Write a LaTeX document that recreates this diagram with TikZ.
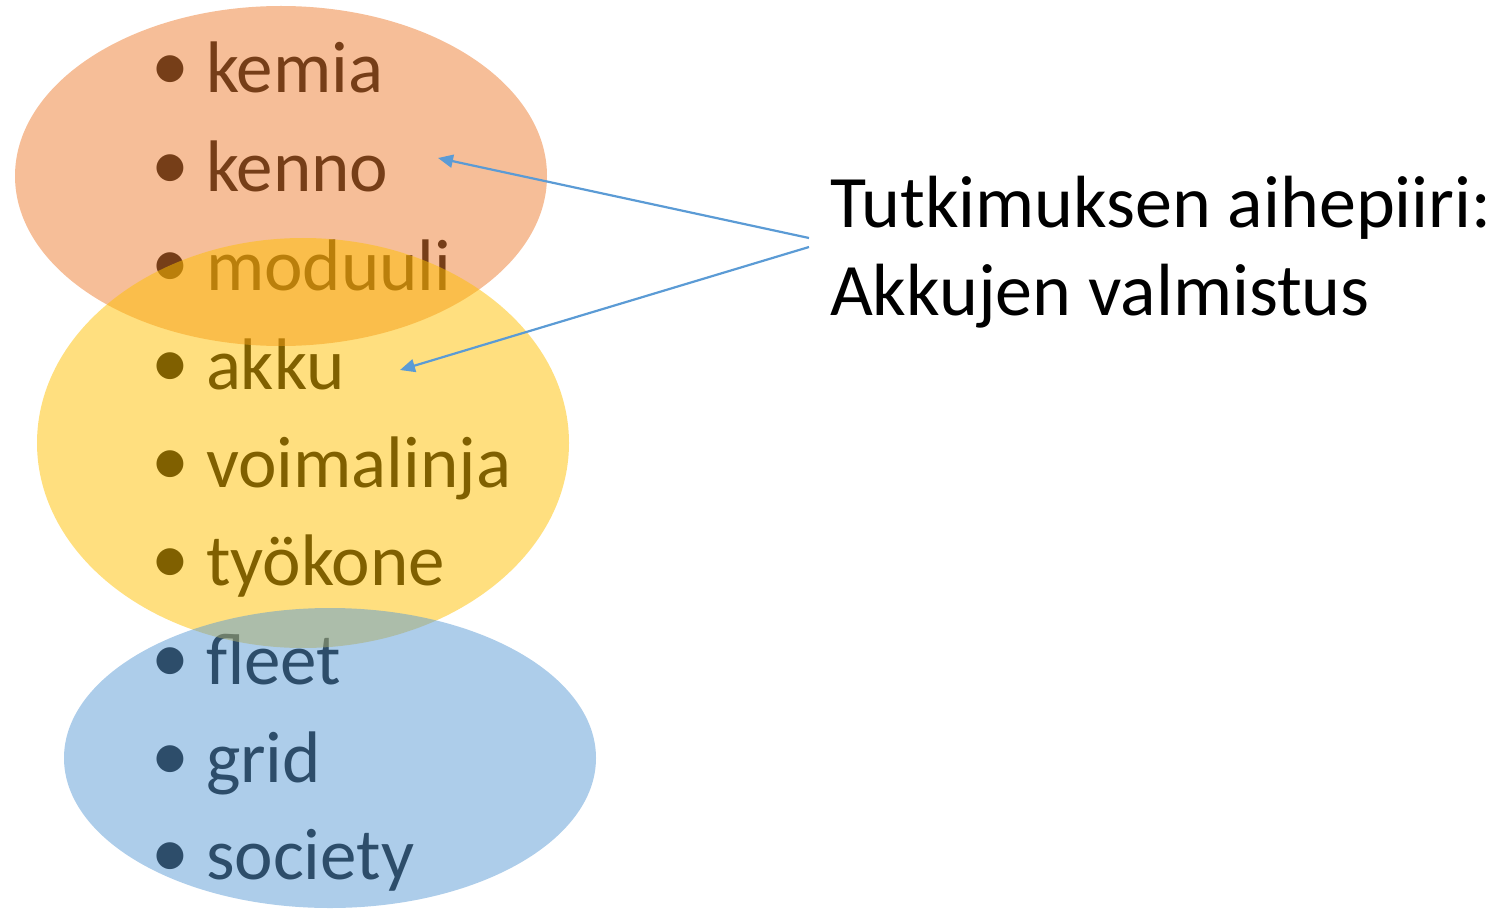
\documentclass[tikz,border=0pt]{standalone}
\usepackage{fontspec}
\setmainfont{Carlito}
\usetikzlibrary{arrows.meta}
\definecolor{cOrange}{HTML}{ED7D31}
\definecolor{cYellow}{HTML}{FFC000}
\definecolor{cBlue}{HTML}{5B9BD5}
\tikzset{
  item/.style={anchor=base west, inner sep=0pt, outer sep=0pt, text=black,
    font=\fontsize{73}{88}\selectfont},
  blob/.style={fill opacity=0.5},
  pointer/.style={draw=cBlue, line width=2.2pt, -{Triangle[length=15pt,width=13pt]}},
  title/.style={anchor=base west, inner sep=0pt, outer sep=0pt, align=left,
    font=\fontsize{74}{88}\selectfont}
}
\newcommand{\bul}[1]{\makebox[50pt][l]{\hspace{-5pt}\raisebox{2pt}{\fontsize{76}{88}\selectfont •}}#1}
\begin{document}
\begin{tikzpicture}[x=1pt,y=-1pt]
\useasboundingbox (0,0) rectangle (1503,909);
% list items (under the translucent ellipses)
\node[item] (i1) at (156,93)  {\bul{kemia}};
\node[item] (i2) at (156,192) {\bul{kenno}};
\node[item] (i3) at (156,290) {\bul{moduuli}};
\node[item] (i4) at (156,389) {\bul{akku}};
\node[item] (i5) at (156,487) {\bul{voimalinja}};
\node[item] (i6) at (156,585) {\bul{työkone}};
\node[item] (i7) at (156,684) {\bul{fleet}};
\node[item] (i8) at (156,782) {\bul{grid}};
\node[item] (i9) at (156,879) {\bul{society}};
% ellipses
\fill[blob, cOrange] (281,176) ellipse [x radius=266, y radius=170];
\fill[blob, cYellow] (303,443) ellipse [x radius=266, y radius=205];
\fill[blob, cBlue]   (330,758) ellipse [x radius=266, y radius=150];
% title (anchor is the baseline of its last line)
\node[title] (t) at (830,315) {Tutkimuksen aihepiiri:\\Akkujen valmistus};
% arrows
\coordinate (s1) at (809,238);
\coordinate (s2) at (809,247);
\coordinate (e1) at (438,158);
\coordinate (e2) at (400,370);
\draw[pointer] (s1) -- (e1);
\draw[pointer] (s2) -- (e2);
\end{tikzpicture}
\end{document}
